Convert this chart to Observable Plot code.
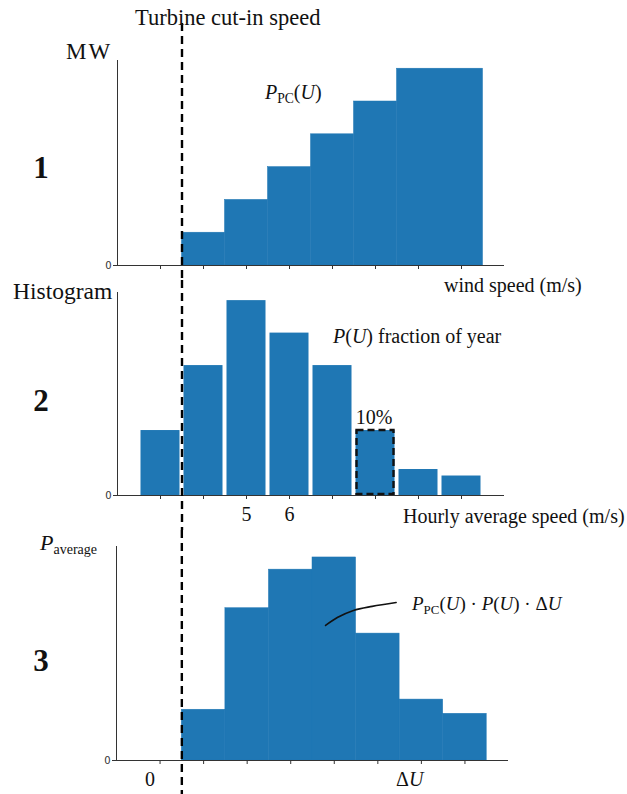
<!DOCTYPE html>
<html><head><meta charset="utf-8">
<script src="https://cdn.jsdelivr.net/npm/d3@7"></script>
<script src="https://cdn.jsdelivr.net/npm/@observablehq/plot@0.6"></script>
<style>
body{margin:0;background:#fff;}
#fig{position:relative;width:627px;height:794px;overflow:hidden;font-family:"Liberation Serif","DejaVu Serif",serif;color:#111;}
#fig svg{position:absolute;left:0;overflow:visible;}
.lab{position:absolute;white-space:nowrap;font-size:20px;line-height:1;}
.big{font-size:22.5px;}
.num{font-weight:bold;font-size:31px;}
.sub{font-size:0.68em;position:relative;top:0.28em;font-style:normal;}
i{font-style:italic;}
</style></head><body><div id="fig"></div>
<script>
// ---------- data ----------
const cutIn = 1.5;                                  // turbine cut-in speed (bin edge)
// panel 1: power curve steps
const powerStart = [1.5, 2.5, 3.5, 4.5, 5.5, 6.5];
const powerEnd   = [2.5, 3.5, 4.5, 5.5, 6.5, 8.5];
const powerMW    = [1, 2, 3, 4, 5, 6];
// panel 2: histogram of hourly speeds
const histBin  = [1, 2, 3, 4, 5, 6, 7, 8];
const histFrac = [2, 4, 6, 5, 4, 2, 0.8, 0.6];
const highlightBin = 6;
const histTicks = [1, 2, 3, 4, 5, 6, 7, 8];
const histTickLabels = ["", "", "5", "6", "", "", "", ""];
// panel 3: average power contribution
const avgStart = [1.5, 2.5, 3.5, 4.5, 5.5, 6.5, 7.5];
const avgEnd   = [2.5, 3.5, 4.5, 5.5, 6.5, 7.5, 8.5];
const avgPower = [2.5, 7.5, 9.4, 10, 6.25, 3, 2.3];
// leader line for the panel-3 annotation
const leaderX = [4.8, 5.07, 5.44, 5.87, 6.42];
const leaderY = [6.65, 7.04, 7.39, 7.59, 7.78];

// ---------- drawing ----------
const W = 627, blue = "#1f77b4", axisColor = "#333";
const fig = document.getElementById("fig");

function common(ml, mr, mt, mb, h, ymax, dashTop, marks, xAxisOpts) {
  return Plot.plot({
    width: W, height: h,
    marginLeft: ml, marginRight: mr, marginTop: mt, marginBottom: mb,
    x: {domain: [0, 9]}, y: {domain: [0, ymax]},
    style: {background: "transparent", overflow: "visible"},
    marks: [
      ...marks,
      Plot.ruleY([0], {stroke: axisColor, strokeWidth: 1}),
      Plot.ruleX([0], {stroke: axisColor, strokeWidth: 1}),
      Plot.axisX(Object.assign({ticks: d3.range(1, 9), tickSize: 4, stroke: axisColor, label: null, tickFormat: () => ""}, xAxisOpts || {})),
      Plot.axisY({ticks: [0], tickSize: 4, tickPadding: 2, label: null, tickFormat: d3.format("d"), fontFamily: "DejaVu Sans", fontSize: 10, fill: "#333", stroke: axisColor}),
      Plot.ruleX([cutIn], {stroke: "#000", strokeWidth: 2.4, strokeDasharray: "8,5", insetTop: -mt + dashTop, insetBottom: -mb})
    ]
  });
}

// Panel 1
const powerData = powerMW.map((v, i) => ({x1: powerStart[i], x2: powerEnd[i], y: v}));
const p1 = common(117, 123, 60, 15, 280, 6.25, 23, [
  Plot.rect(powerData, {x1: "x1", x2: "x2", y1: 0, y2: "y", fill: blue, stroke: blue, strokeWidth: 0.5})
]);
p1.style.top = "0px";
fig.appendChild(p1);

// Panel 2
const histData = histBin.map((b, i) => ({x1: b - 0.5, x2: b + 0.5, y: histFrac[i], bin: b}));
const p2 = common(117, 123, 12, 35, 250, 6.25, 0, [
  Plot.rect(histData, {x1: "x1", x2: "x2", y1: 0, y2: "y", fill: blue, insetLeft: 2, insetRight: 2}),
  Plot.rect(histData.filter(d => d.bin === highlightBin), {x1: "x1", x2: "x2", y1: 0, y2: "y", fill: "none", stroke: "#111", strokeWidth: 2.4, strokeDasharray: "7,4", insetLeft: 3, insetRight: 3, insetBottom: 1})
], {tickFormat: d => histTickLabels[histTicks.indexOf(d)], fontSize: 20, fontFamily: "Liberation Serif", tickPadding: 7, fill: "#111"});
p2.style.top = "280px";
fig.appendChild(p2);

// Panel 3
const avgData = avgPower.map((v, i) => ({x1: avgStart[i], x2: avgEnd[i], y: v}));
const leader = leaderX.map((x, i) => ({x, y: leaderY[i]}));
const p3 = common(116, 119, 16, 34, 264, 10.54, 0, [
  Plot.rect(avgData, {x1: "x1", x2: "x2", y1: 0, y2: "y", fill: blue, stroke: blue, strokeWidth: 0.5}),
  Plot.line(leader, {x: "x", y: "y", stroke: "#111", strokeWidth: 1.6, curve: "catmull-rom"})
]);
p3.style.top = "530px";
fig.appendChild(p3);

// ---------- text labels ----------
function label(html, x, y, anchor, cls, style) {
  const d = document.createElement("div");
  d.className = "lab " + (cls || "");
  d.innerHTML = html;
  d.style.left = x + "px";
  d.style.top = y + "px";
  if (style) d.style.cssText += style;
  const tx = anchor === "middle" ? "-50%" : anchor === "end" ? "-100%" : "0";
  d.style.transform = `translate(${tx},-52%)`;
  fig.appendChild(d);
}
label("Turbine cut-in speed", 135, 19, "start", "big");
label("MW", 66, 52, "start", "big", "font-size:23px;letter-spacing:2px;");
label("1", 41, 168, "middle", "num");
label("<i>P</i><span class='sub'>PC</span>(<i>U</i>)", 265, 92, "start", "");
label("wind speed (m/s)", 444, 285, "start", "");
label("Histogram", 13, 292, "start", "big", "font-size:23.5px;");
label("<i>P</i>(<i>U</i>) fraction of year", 333, 336, "start", "");
label("2", 41, 401, "middle", "num");
label("10%", 374, 417, "middle", "");
label("Hourly average speed (m/s)", 403, 516, "start", "");
label("<i style='font-size:22px'>P</i><span class='sub' style='font-size:14px'>average</span>", 40, 543, "start", "");
label("3", 41, 661, "middle", "num");
label("<i>P</i><span class='sub'>PC</span>(<i>U</i>) · <i>P</i>(<i>U</i>) · Δ<i>U</i>", 412, 604, "start", "", "font-size:19px;");
label("0", 150, 779, "middle", "");
label("Δ<i>U</i>", 396, 779, "start", "");
</script></body></html>
